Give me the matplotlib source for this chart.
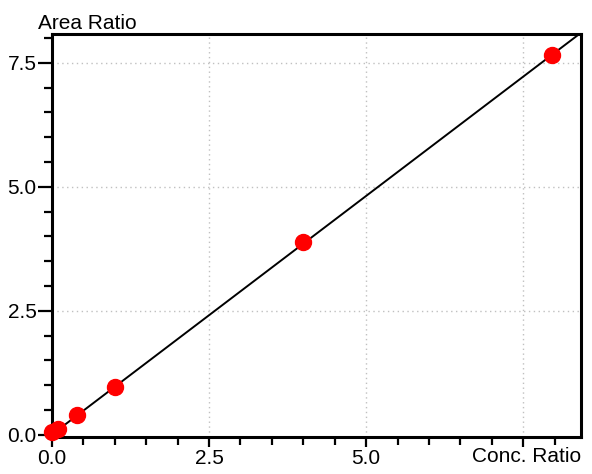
import matplotlib
matplotlib.use("Agg")
import matplotlib.pyplot as plt
import numpy as np
from matplotlib.ticker import MultipleLocator

conc_ratio = [0.0, 0.1, 0.4, 1.0, 4.0, 7.96]
area_ratio = [0.05, 0.115, 0.40, 0.955, 3.89, 7.66]
fit_slope = 0.962
fit_intercept = 0.005
x_ticks = [0.0, 2.5, 5.0, 7.5]
x_tick_labels = ["0.0", "2.5", "5.0", ""]
y_ticks = [0.0, 2.5, 5.0, 7.5]
y_tick_labels = ["0.0", "2.5", "5.0", "7.5"]

plt.rcParams['font.family'] = ['Liberation Sans', 'DejaVu Sans']

fig = plt.figure(figsize=(5.92, 4.74), dpi=100)
ax = fig.add_axes([52/592, 1-436.5/474, (581-52)/592, (436.5-34)/474])

xmin, xmax = 0.0, 8.42
ymin, ymax = -0.036, 8.08
ax.set_xlim(xmin, xmax)
ax.set_ylim(ymin, ymax)

xl = np.array([0.0, xmax])
ax.plot(xl, fit_slope * xl + fit_intercept, color='black', lw=1.4, zorder=2)
ax.plot(conc_ratio, area_ratio, 'o', color='#ff0000', ms=11.5, mec='#ff0000',
        clip_on=False, zorder=3)

ax.set_xticks(x_ticks)
ax.set_xticklabels(x_tick_labels)
ax.set_yticks(y_ticks)
ax.set_yticklabels(y_tick_labels)
ax.xaxis.set_minor_locator(MultipleLocator(0.5))
ax.yaxis.set_minor_locator(MultipleLocator(0.5))

for g in [2.5, 5.0, 7.5]:
    ax.axvline(g, color='#c0c0c0', lw=1, ls=(0, (1, 2.5)), zorder=1)
    ax.axhline(g, color='#c0c0c0', lw=1, ls=(0, (1, 2.5)), zorder=1)

for s in ax.spines.values():
    s.set_linewidth(2.2)
    s.set_color('black')

ax.tick_params(axis='x', which='major', length=7, width=1.6, labelsize=15, pad=2)
ax.tick_params(axis='x', which='minor', length=6, width=1.6)
ax.tick_params(axis='y', which='major', length=10, width=1.6, labelsize=15, pad=1)
ax.tick_params(axis='y', which='minor', length=6, width=1.6)

fig.text(38/592, 1-29/474, "Area Ratio", fontsize=15, ha='left', va='baseline')
fig.text(581/592, 1-462/474, "Conc. Ratio", fontsize=15, ha='right', va='baseline')

fig.savefig("out.png", dpi=100)
